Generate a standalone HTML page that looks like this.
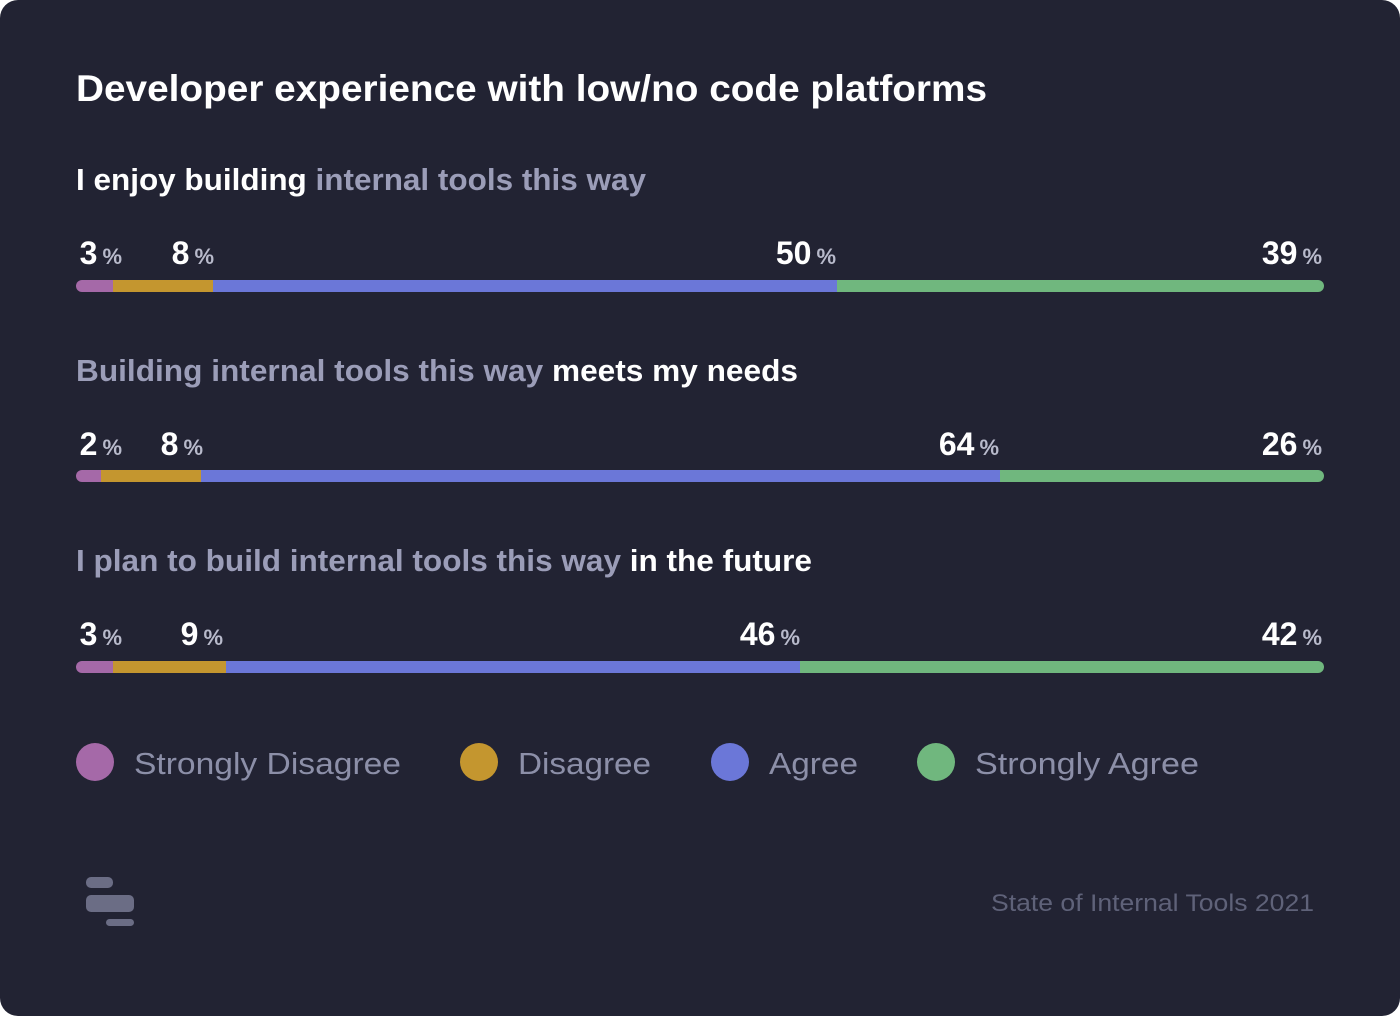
<!DOCTYPE html>
<html><head><meta charset="utf-8"><style>
html,body{margin:0;padding:0;background:#fff;}
svg{display:block;}
text{font-family:"Liberation Sans",sans-serif;}
</style></head><body>
<svg width="1400" height="1016" viewBox="0 0 1400 1016" xmlns="http://www.w3.org/2000/svg">
<rect x="0" y="0" width="1400" height="1016" rx="18" fill="#222333"/>
<text x="76" y="101" font-size="37" font-weight="bold" fill="#ffffff" textLength="911" lengthAdjust="spacingAndGlyphs">Developer experience with low/no code platforms</text>

<text x="76" y="190" font-size="31" font-weight="bold" textLength="570" lengthAdjust="spacingAndGlyphs"><tspan fill="#ffffff">I enjoy building </tspan><tspan fill="#9b9db8">internal tools this way</tspan></text>
<text x="76" y="381" font-size="31" font-weight="bold" textLength="722" lengthAdjust="spacingAndGlyphs"><tspan fill="#9b9db8">Building internal tools this way </tspan><tspan fill="#ffffff">meets my needs</tspan></text>
<text x="76" y="571" font-size="31" font-weight="bold" textLength="736" lengthAdjust="spacingAndGlyphs"><tspan fill="#9b9db8">I plan to build internal tools this way </tspan><tspan fill="#ffffff">in the future</tspan></text>

<g font-weight="bold" text-anchor="end">
<g font-size="32" fill="#fff">
<text x="122" y="264"><tspan>3</tspan><tspan font-size="22" fill="#b8bacb" dx="5">%</tspan></text>
<text x="214" y="264"><tspan>8</tspan><tspan font-size="22" fill="#b8bacb" dx="5">%</tspan></text>
<text x="836" y="264"><tspan>50</tspan><tspan font-size="22" fill="#b8bacb" dx="5">%</tspan></text>
<text x="1322" y="264"><tspan>39</tspan><tspan font-size="22" fill="#b8bacb" dx="5">%</tspan></text>
<text x="122" y="455"><tspan>2</tspan><tspan font-size="22" fill="#b8bacb" dx="5">%</tspan></text>
<text x="203" y="455"><tspan>8</tspan><tspan font-size="22" fill="#b8bacb" dx="5">%</tspan></text>
<text x="999" y="455"><tspan>64</tspan><tspan font-size="22" fill="#b8bacb" dx="5">%</tspan></text>
<text x="1322" y="455"><tspan>26</tspan><tspan font-size="22" fill="#b8bacb" dx="5">%</tspan></text>
<text x="122" y="645"><tspan>3</tspan><tspan font-size="22" fill="#b8bacb" dx="5">%</tspan></text>
<text x="223" y="645"><tspan>9</tspan><tspan font-size="22" fill="#b8bacb" dx="5">%</tspan></text>
<text x="800" y="645"><tspan>46</tspan><tspan font-size="22" fill="#b8bacb" dx="5">%</tspan></text>
<text x="1322" y="645"><tspan>42</tspan><tspan font-size="22" fill="#b8bacb" dx="5">%</tspan></text>
</g></g>

<defs>
<clipPath id="c1"><rect x="76" y="280" width="1248" height="12" rx="6"/></clipPath>
<clipPath id="c2"><rect x="76" y="470" width="1248" height="12" rx="6"/></clipPath>
<clipPath id="c3"><rect x="76" y="661" width="1248" height="12" rx="6"/></clipPath>
</defs>
<g clip-path="url(#c1)">
<rect x="76" y="280" width="37" height="12" fill="#a569a8"/>
<rect x="113" y="280" width="100" height="12" fill="#c4962f"/>
<rect x="213" y="280" width="624" height="12" fill="#6b77d8"/>
<rect x="837" y="280" width="487" height="12" fill="#70b77e"/>
</g>
<g clip-path="url(#c2)">
<rect x="76" y="470" width="25" height="12" fill="#a569a8"/>
<rect x="101" y="470" width="100" height="12" fill="#c4962f"/>
<rect x="201" y="470" width="799" height="12" fill="#6b77d8"/>
<rect x="1000" y="470" width="324" height="12" fill="#70b77e"/>
</g>
<g clip-path="url(#c3)">
<rect x="76" y="661" width="37" height="12" fill="#a569a8"/>
<rect x="113" y="661" width="113" height="12" fill="#c4962f"/>
<rect x="226" y="661" width="574" height="12" fill="#6b77d8"/>
<rect x="800" y="661" width="524" height="12" fill="#70b77e"/>
</g>

<g font-size="31" fill="#8c8fa8">
<circle cx="95" cy="762" r="19" fill="#a569a8"/>
<text x="134" y="774" textLength="267" lengthAdjust="spacingAndGlyphs">Strongly Disagree</text>
<circle cx="479" cy="762" r="19" fill="#c4962f"/>
<text x="518" y="774" textLength="133" lengthAdjust="spacingAndGlyphs">Disagree</text>
<circle cx="730" cy="762" r="19" fill="#6b77d8"/>
<text x="769" y="774" textLength="89" lengthAdjust="spacingAndGlyphs">Agree</text>
<circle cx="936" cy="762" r="19" fill="#70b77e"/>
<text x="975" y="774" textLength="224" lengthAdjust="spacingAndGlyphs">Strongly Agree</text>
</g>

<g fill="#6b6d85">
<rect x="86" y="877" width="27" height="11" rx="5"/>
<rect x="86" y="895" width="48" height="17" rx="5"/>
<rect x="106" y="919" width="28" height="7" rx="3.5"/>
</g>
<text x="991" y="911" font-size="24" fill="#5f6279" textLength="323" lengthAdjust="spacingAndGlyphs">State of Internal Tools 2021</text>
</svg>
</body></html>
